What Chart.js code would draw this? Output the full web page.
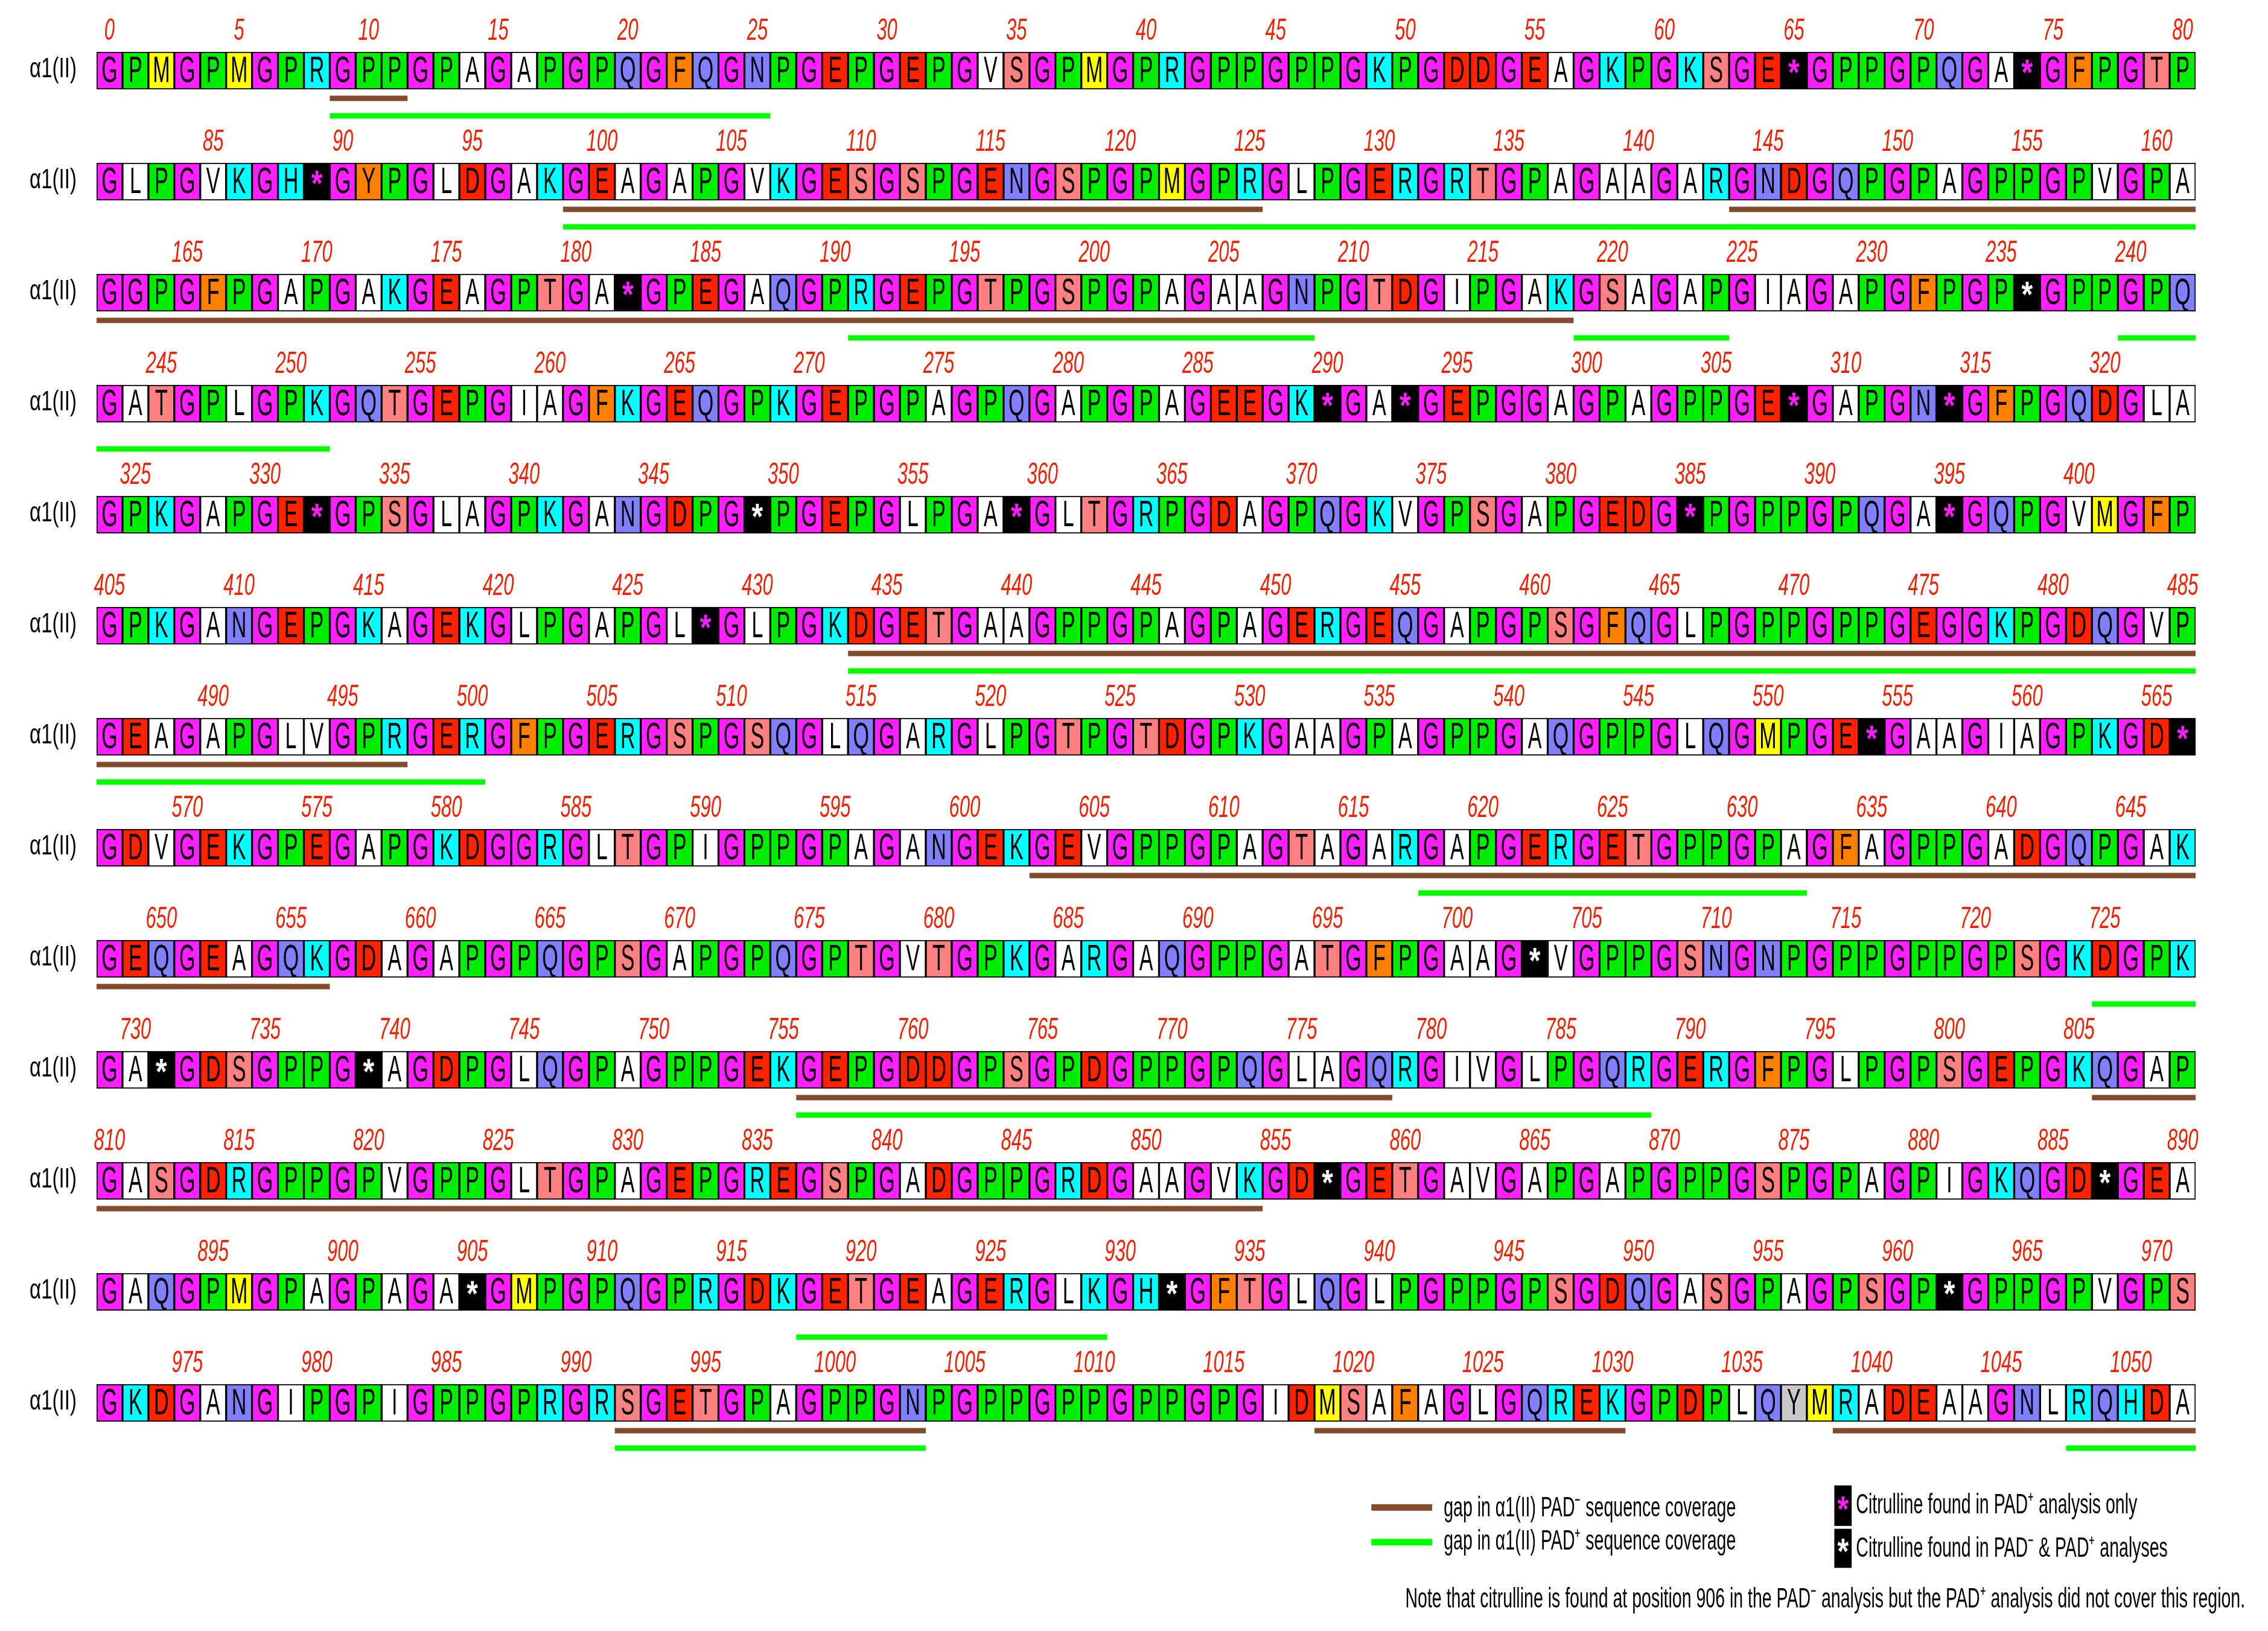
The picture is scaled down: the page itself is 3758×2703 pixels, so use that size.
<!DOCTYPE html>
<html>
<head>
<meta charset="utf-8">
<script src="https://cdn.jsdelivr.net/npm/chart.js@4.4.0/dist/chart.umd.min.js"></script>
<style>
  html, body { margin: 0; padding: 0; background: #fff; }
  canvas { display: block; }
</style>
</head>
<body>
<canvas id="seqChart" width="3758" height="2703"></canvas>
<script>
// one string per row, 81 residues each, '*' = citrulline
const rows = [
    'GPMGPMGPRGPPGPAGAPGPQGFQGNPGEPGEPGVSGPMGPRGPPGPPGKPGDDGEAGKPGKSGE*GPPGPQGA*GFPGTP',
    'GLPGVKGH*GYPGLDGAKGEAGAPGVKGESGSPGENGSPGPMGPRGLPGERGRTGPAGAAGARGNDGQPGPAGPPGPVGPA',
    'GGPGFPGAPGAKGEAGPTGA*GPEGAQGPRGEPGTPGSPGPAGAAGNPGTDGIPGAKGSAGAPGIAGAPGFPGP*GPPGPQ',
    'GATGPLGPKGQTGEPGIAGFKGEQGPKGEPGPAGPQGAPGPAGEEGK*GA*GEPGGAGPAGPPGE*GAPGN*GFPGQDGLA',
    'GPKGAPGE*GPSGLAGPKGANGDPG*PGEPGLPGA*GLTGRPGDAGPQGKVGPSGAPGEDG*PGPPGPQGA*GQPGVMGFP',
    'GPKGANGEPGKAGEKGLPGAPGL*GLPGKDGETGAAGPPGPAGPAGERGEQGAPGPSGFQGLPGPPGPPGEGGKPGDQGVP',
    'GEAGAPGLVGPRGERGFPGERGSPGSQGLQGARGLPGTPGTDGPKGAAGPAGPPGAQGPPGLQGMPGE*GAAGIAGPKGD*',
    'GDVGEKGPEGAPGKDGGRGLTGPIGPPGPAGANGEKGEVGPPGPAGTAGARGAPGERGETGPPGPAGFAGPPGADGQPGAK',
    'GEQGEAGQKGDAGAPGPQGPSGAPGPQGPTGVTGPKGARGAQGPPGATGFPGAAG*VGPPGSNGNPGPPGPPGPSGKDGPK',
    'GA*GDSGPPG*AGDPGLQGPAGPPGEKGEPGDDGPSGPDGPPGPQGLAGQRGIVGLPGQRGERGFPGLPGPSGEPGKQGAP',
    'GASGDRGPPGPVGPPGLTGPAGEPGREGSPGADGPPGRDGAAGVKGD*GETGAVGAPGAPGPPGSPGPAGPIGKQGD*GEA',
    'GAQGPMGPAGPAGA*GMPGPQGPRGDKGETGEAGERGLKGH*GFTGLQGLPGPPGPSGDQGASGPAGPSGP*GPPGPVGPS',
    'GKDGANGIPGPIGPPGPRGRSGETGPAGPPGNPGPPGPPGPPGPGIDMSAFAGLGQREKGPDPLQYMRADEAAGNLRQHDA'
];
// citrulline found in both PAD- and PAD+ (white star); the rest are PAD+ only (pink star)
const whiteStars = [236, 349, 703, 731, 739, 857, 887, 905, 932, 962];
const greyResidues = [1037];
// coverage gaps, inclusive residue ranges
const gapPadMinus = [[9, 11], [99, 125], [144, 218], [434, 497], [603, 656], [756, 778], [806, 854], [992, 1003], [1019, 1030], [1039, 1052]];
const gapPadPlus = [[9, 25], [99, 161], [191, 208], [219, 224], [240, 251], [434, 500], [618, 632], [725, 728], [756, 788], [918, 929], [992, 1003], [1048, 1052]];

const perRow = 81;
const cellH = 0.337;
const brownOff = 0.418;
const greenOff = 0.576;

const residueColors = {
    G: '#ff1fff', P: '#00ee00', A: '#ffffff', V: '#ffffff', L: '#ffffff', I: '#ffffff',
    R: '#00ffff', K: '#00ffff', H: '#00ffff', D: '#ff2200', E: '#ff2200',
    S: '#ff8080', T: '#ff8080', Q: '#8080ff', N: '#8080ff', F: '#ff8000', Y: '#ff8000',
    M: '#ffff00', '*': '#000000'
};

const colLabels = [];
for (let i = 0; i < perRow; i++) colLabels.push(String(i));

const datasets = [];
rows.forEach((seq, r) => {
    const colors = seq.split('').map((c, i) => {
        const pos = r * perRow + i;
        if (greyResidues.includes(pos)) return '#c8c8c8';
        return residueColors[c] || '#ffffff';
    });
    datasets.push({
        type: 'bar',
        label: 'row' + r,
        data: seq.split('').map(() => [r, r + cellH]),
        backgroundColor: colors,
        borderColor: '#000',
        borderWidth: 2,
        borderSkipped: false,
        barPercentage: 1,
        categoryPercentage: 1,
        grouped: false,
        xAxisID: 'x',
        yAxisID: 'y'
    });
});

function addGaps(ranges, color, off) {
    ranges.forEach(([a, b]) => {
        let s = a;
        while (s <= b) {
            const r = Math.floor(s / perRow);
            const e = Math.min(b, r * perRow + perRow - 1);
            datasets.push({
                type: 'line',
                data: [{ x: s - r * perRow - 0.5, y: r + off }, { x: e - r * perRow + 0.5, y: r + off }],
                borderColor: color,
                borderWidth: 9,
                borderCapStyle: 'butt',
                pointRadius: 0,
                xAxisID: 'x2',
                yAxisID: 'y'
            });
            s = e + 1;
        }
    });
}
addGaps(gapPadMinus, '#834a2c', brownOff);
addGaps(gapPadPlus, '#00ff00', greenOff);

function condensedText(ctx, text, x, y, sx, font, color, align) {
    ctx.save();
    ctx.font = font;
    ctx.fillStyle = color;
    ctx.textAlign = align || 'center';
    ctx.textBaseline = 'middle';
    ctx.translate(x, y);
    ctx.scale(sx, 1);
    ctx.fillText(text, 0, 0);
    ctx.restore();
}

const lettersPlugin = {
    id: 'letters',
    afterDatasetsDraw(chart) {
        const ctx = chart.ctx;
        const xs = chart.scales.x;
        const ys = chart.scales.y;
        rows.forEach((seq, r) => {
            const meta = chart.getDatasetMeta(r);
            const top = ys.getPixelForValue(r);
            const bottom = ys.getPixelForValue(r + cellH);
            const cy = (top + bottom) / 2 + 2;
            seq.split('').forEach((c, i) => {
                const el = meta.data[i];
                const pos = r * perRow + i;
                if (c === '*') {
                    const col = whiteStars.includes(pos) ? '#ffffff' : '#ff1fff';
                    condensedText(ctx, '*', el.x, cy + 4, 0.8, 'bold 60px "Liberation Sans"', col);
                } else {
                    condensedText(ctx, c, el.x, cy, 0.55, '62px "Liberation Sans"', '#000');
                }
                if (pos % 5 === 0) {
                    condensedText(ctx, String(pos), xs.getPixelForValue(i), top - 34, 0.62,
                        'italic 50px "Liberation Sans"', '#ee2200');
                }
            });
            condensedText(ctx, 'α1(II)', 88, cy - 4, 0.72, '46px "Liberation Sans"', '#000');
        });

        // legend
        const s = 2.397;
        ctx.save();
        ctx.fillStyle = '#834a2c';
        ctx.fillRect(948 * s, 1040 * s, 42 * s, 4.5 * s);
        ctx.fillStyle = '#00ff00';
        ctx.fillRect(948 * s, 1064 * s, 42 * s, 4.5 * s);
        ctx.fillStyle = '#000';
        ctx.fillRect(1268 * s, 1027 * s, 12 * s, 28 * s);
        ctx.fillRect(1268 * s, 1057 * s, 12 * s, 27 * s);
        ctx.restore();
        condensedText(ctx, '*', 1274 * s, 1045 * s, 0.8, 'bold 60px "Liberation Sans"', '#ff1fff');
        condensedText(ctx, '*', 1274 * s, 1074 * s, 0.8, 'bold 60px "Liberation Sans"', '#ffffff');
        const lf = '46px "Liberation Sans"';
        condensedText(ctx, 'gap in α1(II) PAD⁻ sequence coverage', 998 * s, 1043 * s, 0.62, lf, '#000', 'left');
        condensedText(ctx, 'gap in α1(II) PAD⁺ sequence coverage', 998 * s, 1066 * s, 0.62, lf, '#000', 'left');
        condensedText(ctx, 'Citrulline found in PAD⁺ analysis only', 1283 * s, 1041 * s, 0.62, lf, '#000', 'left');
        condensedText(ctx, 'Citrulline found in PAD⁻ & PAD⁺ analyses', 1283 * s, 1071 * s, 0.62, lf, '#000', 'left');
        condensedText(ctx, 'Note that citrulline is found at position 906 in the PAD⁻ analysis but the PAD⁺ analysis did not cover this region.',
            1552 * s, 1106 * s, 0.62, lf, '#000', 'right');
    }
};

new Chart(document.getElementById('seqChart').getContext('2d'), {
    data: { labels: colLabels, datasets: datasets },
    options: {
        responsive: false,
        animation: false,
        devicePixelRatio: 1,
        layout: { padding: { left: 160, right: 120, top: 86, bottom: 225 } },
        plugins: { legend: { display: false }, tooltip: { enabled: false } },
        scales: {
            x: { type: 'category', display: false, offset: true, grid: { display: false } },
            x2: { type: 'linear', display: false, min: -0.5, max: 80.5 },
            y: { type: 'linear', display: false, reverse: true, min: 0, max: 13 }
        }
    },
    plugins: [lettersPlugin]
});
</script>
</body>
</html>
